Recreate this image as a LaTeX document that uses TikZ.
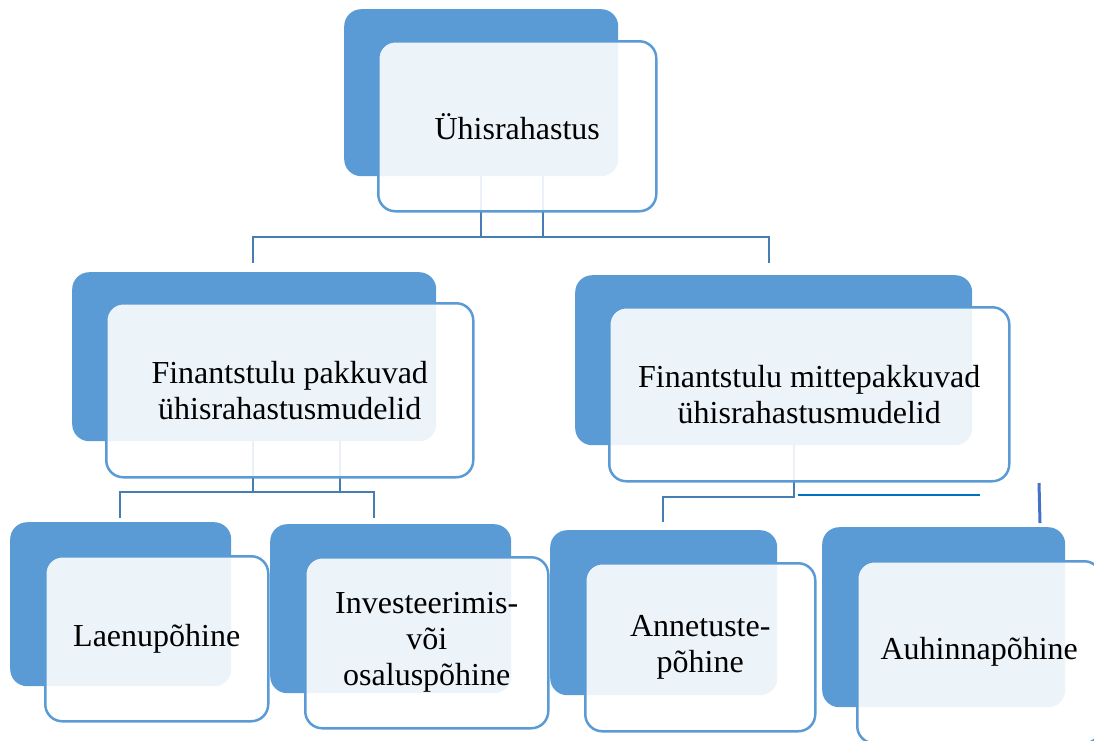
\documentclass[tikz,border=0pt]{standalone}
\usepackage{fontspec}
\setmainfont{Liberation Serif}
\definecolor{darkfill}{RGB}{91,155,213}
\definecolor{boxline}{RGB}{91,155,213}
\definecolor{connc}{RGB}{70,125,178}
\definecolor{brightblue}{RGB}{0,112,192}
\definecolor{slantblue}{RGB}{68,114,196}
\tikzset{
  darkbox/.style={anchor=north west, fill=darkfill, draw=none, rounded corners=17pt, inner sep=0pt},
  lightbox/.style={anchor=north west, fill=white, fill opacity=0.89, text opacity=1, draw=boxline, line width=2.5pt, rounded corners=17pt, inner sep=0pt},
  label/.style={align=center, font=\fontsize{32}{36}\selectfont, text=black, inner sep=0pt},
  conn/.style={draw=connc, line width=2.6pt},
}
\begin{document}
\begin{tikzpicture}[x=1pt,y=-1pt]
\useasboundingbox (0,0) rectangle (1094,740);
\clip (0,0) rectangle (1094,740);

% connector junction points
\coordinate (tA) at (481,150);
\coordinate (tB) at (543,150);
\coordinate (tJl) at (253,237);
\coordinate (tJr) at (769,237);
\coordinate (tEl) at (253,263);
\coordinate (tEr) at (769,263);

\coordinate (lA) at (253,420);
\coordinate (lB) at (340,420);
\coordinate (lJl) at (120,492);
\coordinate (lJr) at (374,492);
\coordinate (lEl) at (120,518);
\coordinate (lEr) at (374,518);

\coordinate (rA) at (794,420);
\coordinate (rJ) at (794,497);
\coordinate (rJl) at (663,497);
\coordinate (rEl) at (663,522);

\coordinate (bS) at (798,495);
\coordinate (bE) at (980,495);
\coordinate (sS) at (1039,483);
\coordinate (sE) at (1040,523);

% connectors (behind the boxes)
\draw[conn] (tA) -- (tA |- tJl);
\draw[conn] (tB) -- (tB |- tJl);
\draw[conn] (tEl) -- (tJl) -- (tJr) -- (tEr);

\draw[conn] (lA) -- (lA |- lJl);
\draw[conn] (lB) -- (lB |- lJl);
\draw[conn] (lEl) -- (lJl) -- (lJr) -- (lEr);

\draw[conn] (rA) -- (rJ) -- (rJl) -- (rEl);

\draw[draw=brightblue, line width=2.4pt] (bS) -- (bE);
\draw[draw=slantblue, line width=3pt] (sS) -- (sE);

% dark back boxes
\node[darkbox, minimum width=274pt, minimum height=167pt] (topD) at (344,9) {};
\node[darkbox, minimum width=364pt, minimum height=169pt] (lmD) at (72,272) {};
\node[darkbox, minimum width=397pt, minimum height=170pt] (rmD) at (575,275) {};
\node[darkbox, minimum width=221pt, minimum height=164pt] (b1D) at (10,522) {};
\node[darkbox, minimum width=241pt, minimum height=169pt] (b2D) at (270,524) {};
\node[darkbox, minimum width=227pt, minimum height=165pt] (b3D) at (550,530) {};
\node[darkbox, minimum width=243pt, minimum height=180pt] (b4D) at (822,527) {};

% light front boxes
\node[lightbox, minimum width=278pt, minimum height=170pt] (topL) at (377,40) {};
\node[lightbox, minimum width=367pt, minimum height=174pt] (lmL) at (105,302) {};
\node[lightbox, minimum width=400pt, minimum height=174pt] (rmL) at (608,306) {};
\node[lightbox, minimum width=223pt, minimum height=165pt] (b1L) at (44,555) {};
\node[lightbox, minimum width=243pt, minimum height=171pt] (b2L) at (304,556) {};
\node[lightbox, minimum width=230pt, minimum height=168pt] (b3L) at (584,562) {};
\node[lightbox, minimum width=244pt, minimum height=182pt] (b4L) at (856,560) {};

% labels
\node[label] (topT) at (topL.center) {Ühisrahastus};
\node[label] (lmT) at (lmL.center) {Finantstulu pakkuvad\\ühisrahastusmudelid};
\node[label] (rmT) at (rmL.center) {Finantstulu mittepakkuvad\\ühisrahastusmudelid};
\node[label] (b1T) at (b1L.center) {Laenupõhine};
\node[label] (b2T) at (b2L.center) {Investeerimis-\\või\\osaluspõhine};
\node[label] (b3T) at (b3L.center) {Annetuste-\\põhine};
\node[label] (b4T) at (b4L.center) {Auhinnapõhine};
\end{tikzpicture}
\end{document}
